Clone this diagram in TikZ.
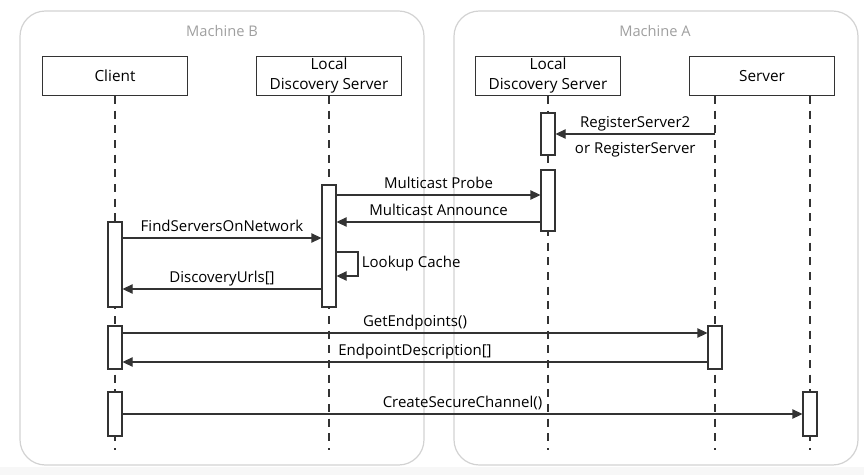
\documentclass[tikz,border=0pt]{standalone}
\usepackage{fontspec}
\setmainfont{Open Sans}
\usetikzlibrary{arrows.meta}

\begin{document}
\begin{tikzpicture}[x=0.75pt, y=-0.75pt, >={Triangle[length=7.5pt,width=7pt]},
    machine/.style={draw=gray!35, line width=0.9pt, rounded corners=19pt},
    mlabel/.style={text=gray!75, font=\fontsize{11}{13}\selectfont},
    head/.style={draw=black!80, line width=0.8pt, fill=white, minimum width=108.75pt,
      minimum height=29.25pt, inner sep=0pt, align=center, font=\fontsize{11.5}{15}\selectfont},
    act/.style={draw=black!80, line width=0.8pt, fill=white, minimum width=10.5pt, inner sep=0pt},
    life/.style={draw=black!80, line width=0.8pt, dash pattern=on 6pt off 5pt},
    msg/.style={->, draw=black!80, line width=0.8pt},
    lbl/.style={above=4.5pt, inner sep=0pt, text depth=0pt, font=\fontsize{11.25}{13}\selectfont},
    lblb/.style={below=6pt, inner sep=0pt, font=\fontsize{11.25}{13}\selectfont}]
    \useasboundingbox (0,0) rectangle (864,475);
    \fill[gray!6] (0,467) rectangle (864,475);

    % Machines
    \draw[machine] (20,11) rectangle (424,465);
    \draw[machine] (454,11) rectangle (858,465);
    \node[mlabel] (mb) at (222,31) {Machine B};
    \node[mlabel] (ma) at (655,31) {Machine A};

    % Heads
    \node[head] (client) at (115,76) {Client};
    \node[head] (ldsb) at (329,76) {Local\\Discovery Server};
    \node[head] (ldsa) at (548,76) {Local\\Discovery Server};
    \node[head] (server) at (762,76) {Server};
    \coordinate (bottom) at (0,450);

    % Lifelines
    \draw[life] (client.south) -- (client |- bottom);
    \draw[life] (ldsb.south) -- (ldsb |- bottom);
    \draw[life] (ldsa.south) -- (ldsa |- bottom);
    \draw[life] (server.south -| 715,0) -- (715,450);
    \draw[life] (server.south -| 810,0) -- (810,450);

    % Activations
    \node[act, minimum height=31.5pt] (la1) at (548,134) {};
    \node[act, minimum height=45.75pt] (la2) at (548,200.5) {};
    \node[act, minimum height=91.5pt] (lb1) at (329,246) {};
    \node[act, minimum height=63.75pt] (cl1) at (115,264.5) {};
    \node[act, minimum height=32.25pt] (cl2) at (115,347.5) {};
    \node[act, minimum height=33pt] (cl3) at (115,414) {};
    \node[act, minimum height=32.25pt] (sv1) at (715,347.5) {};
    \node[act, minimum height=33pt] (sv2) at (810,414) {};

    % Messages
    \coordinate (r1) at (0,134);
    \coordinate (r2) at (0,195);
    \coordinate (r3) at (0,222);
    \coordinate (r4) at (0,238);
    \coordinate (r5a) at (358,252);
    \coordinate (r5b) at (358,276);
    \coordinate (r6) at (0,289);
    \coordinate (r7) at (0,333);
    \coordinate (r8) at (0,362);
    \coordinate (r9) at (0,414);

    \draw[msg] (sv1 |- r1) -- node[lbl] {RegisterServer2}
      node[lblb] {or RegisterServer} (la1.east |- r1);
    \draw[msg] (lb1.east |- r2) -- node[lbl] {Multicast Probe} (la2.west |- r2);
    \draw[msg] (la2.west |- r3) -- node[lbl] {Multicast Announce} (lb1.east |- r3);
    \draw[msg] (cl1.east |- r4) -- node[lbl] {FindServersOnNetwork} (lb1.west |- r4);
    \draw[msg] (lb1.east |- r5a) -- (r5a) -- node[right=2.5pt, inner sep=0pt, font=\fontsize{11.25}{13}\selectfont] {Lookup Cache} (r5b) -- (lb1.east |- r5b);
    \draw[msg] (lb1.west |- r6) -- node[lbl] {DiscoveryUrls[]} (cl1.east |- r6);
    \draw[msg] (cl2.east |- r7) -- node[lbl] {GetEndpoints()} (sv1.west |- r7);
    \draw[msg] (sv1.west |- r8) -- node[lbl] {EndpointDescription[]} (cl2.east |- r8);
    \draw[msg] (cl3.east |- r9) -- node[lbl] {CreateSecureChannel()} (sv2.west |- r9);
\end{tikzpicture}
\end{document}
